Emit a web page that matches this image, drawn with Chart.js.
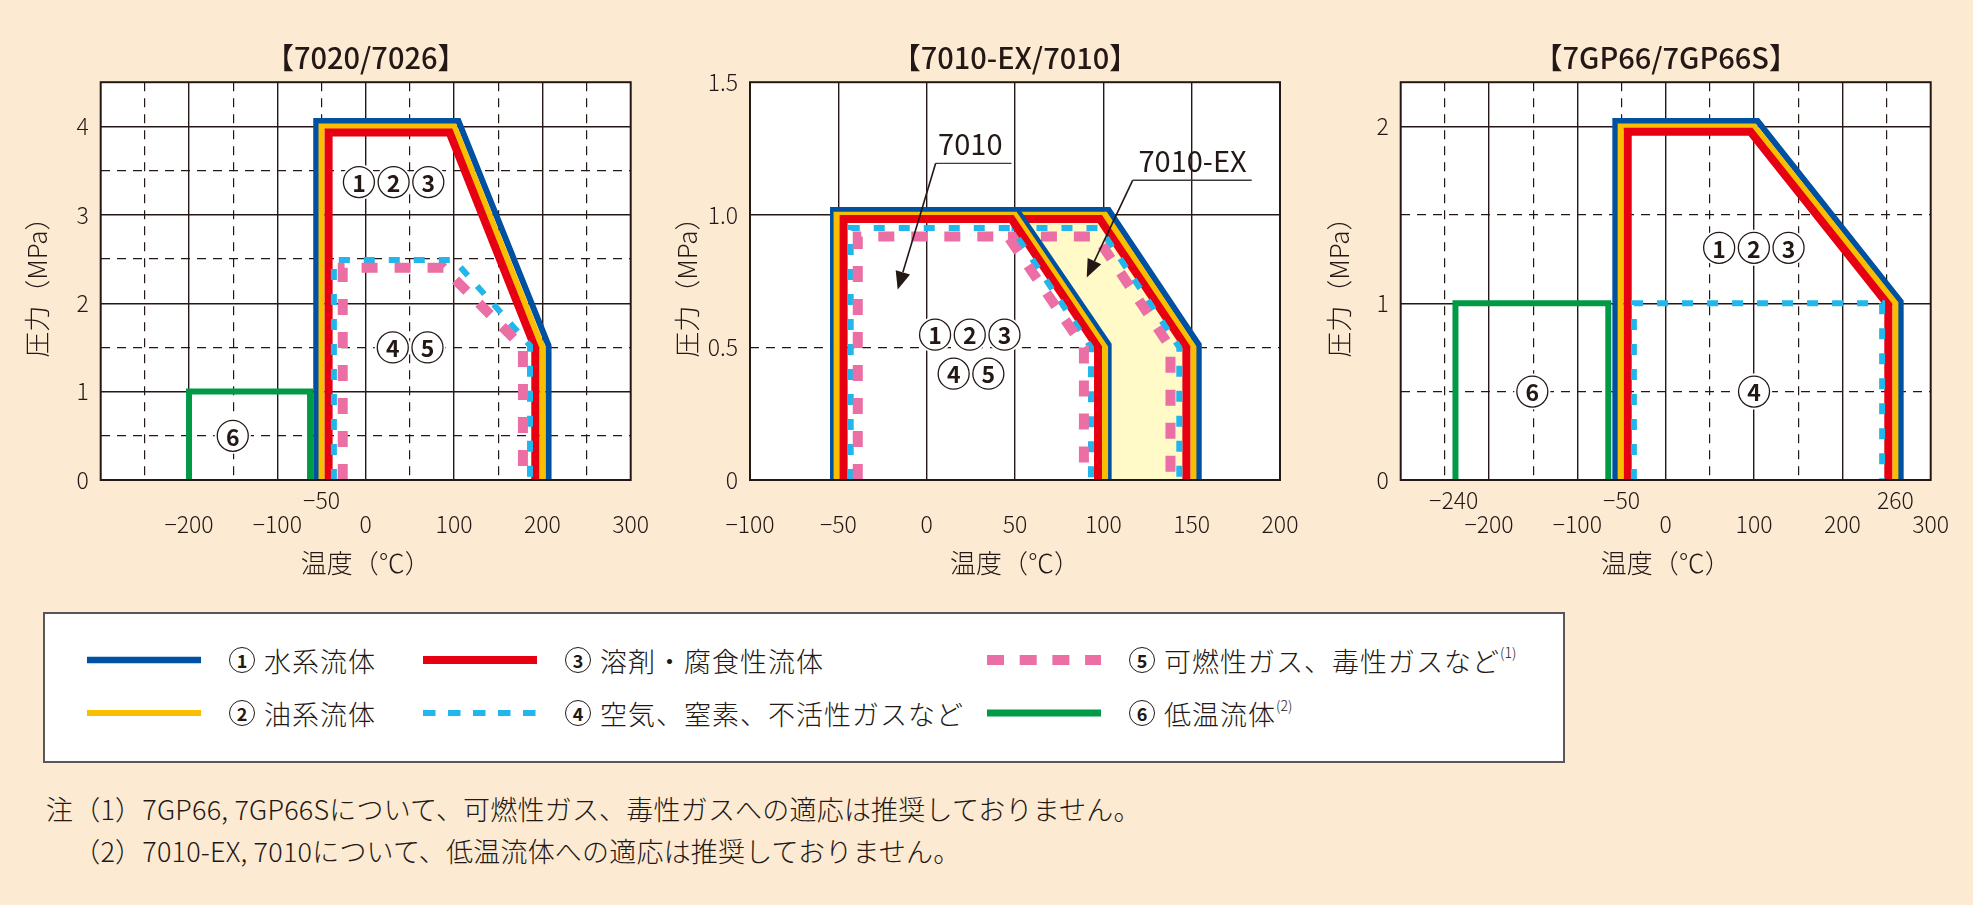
<!DOCTYPE html>
<html>
<head>
<meta charset="utf-8">
<script src="https://cdn.jsdelivr.net/npm/chart.js@4.4.1/dist/chart.umd.min.js"></script>
<style>
  html, body { margin: 0; padding: 0; }
  body { width: 1973px; height: 905px; background: #fcead2; position: relative; overflow: hidden;
         font-family: 'Noto Sans CJK JP', 'Noto Sans', sans-serif; color: #231815; }
  canvas { position: absolute; top: 0; }
  #legend { position: absolute; left: 43px; top: 612px; width: 1522px; height: 151px; box-sizing: border-box;
            background: #fff; border: 2px solid #595757; }
  .item { position: absolute; height: 40px; display: flex; align-items: center; white-space: nowrap; }
  .item svg { margin-right: 28px; }
  .num { display: inline-block; width: 24px; height: 24px; border: 1.4px solid #231815; border-radius: 50%;
         font-weight: 700; font-size: 18px; line-height: 24px; text-align: center; margin-right: 9px; }
  .txt { font-size: 27px; font-weight: 300; letter-spacing: 1px; }
  .txt sup { font-size: 14px; position: relative; top: -4px; letter-spacing: 0; }
  .note { position: absolute; left: 46px; font-size: 27px; font-weight: 300; letter-spacing: 0.2px; white-space: nowrap; }
</style>
</head>
<body>
<canvas id="c1" width="660" height="600" style="left:0px"></canvas>
<canvas id="c2" width="660" height="600" style="left:660px"></canvas>
<canvas id="c3" width="653" height="600" style="left:1320px"></canvas>
<div id="legend"></div>
<div class="note" style="top:789px">注（1）7GP66, 7GP66Sについて、可燃性ガス、毒性ガスへの適応は推奨しておりません。</div>
<div class="note" style="top:831px"><span style="visibility:hidden">注</span>（2）7010-EX, 7010について、低温流体への適応は推奨しておりません。</div>

<script>
const INK = '#231815'
const BLUE = '#0051a2'
const YELLOW = '#f9be00'
const RED = '#e60012'
const CYAN = '#21b7ec'
const PINK = '#eb6ea5'
const GREEN = '#009a47'
const FILL = '#fffac8'
const FONT = "'Noto Sans CJK JP', 'Noto Sans', sans-serif"

// 【7020/7026】 temperature (°C), pressure (MPa)
const blue1 = [[-56, 0], [-56, 4.06], [105, 4.06], [207, 1.52], [207, 0]]
const yellow1 = [[-50, 0], [-50, 4.0], [100, 4.0], [200, 1.5], [200, 0]]
const red1 = [[-42, 0], [-42, 3.93], [95, 3.93], [192, 1.49], [192, 0]]
const cyan1 = [[-36, 0], [-36, 2.49], [100, 2.49], [186, 1.52], [186, 0]]
const pink1 = [[-26, 0], [-26, 2.4], [88, 2.4], [178, 1.5], [178, 0]]
const green1 = [[-200, 0], [-200, 1.0], [-63, 1.0], [-63, 0]]
const marks1 = [['123', 31.6, 3.37], ['45', 50.3, 1.5], ['6', -150.5, 0.5]]

// 【7010-EX/7010】
const blue2 = [[-53, 0], [-53, 1.018], [51, 1.018], [103, 0.51], [103, 0]]
const yellow2 = [[-51, 0], [-51, 1.0], [50, 1.0], [101, 0.5], [101, 0]]
const red2 = [[-47, 0], [-47, 0.984], [48, 0.984], [97, 0.5], [97, 0]]
const cyan2 = [[-43, 0], [-43, 0.95], [48, 0.95], [93, 0.5], [93, 0]]
const pink2 = [[-39, 0], [-39, 0.918], [46, 0.918], [89, 0.5], [89, 0]]
const blueEx = [[51, 1.018], [103, 1.018], [154, 0.51], [154, 0]]
const yellowEx = [[50, 1.0], [101, 1.0], [151, 0.5], [151, 0]]
const redEx = [[48, 0.984], [98, 0.984], [147, 0.5], [147, 0]]
const cyanEx = [[48, 0.95], [98, 0.95], [143, 0.5], [143, 0]]
const pinkEx = [[46, 0.918], [96, 0.918], [138, 0.5], [138, 0]]
const exZone = [[50, 1.0], [101, 1.0], [151, 0.5], [151, 0], [101, 0], [101, 0.5], [50, 1.0]]
const marks2 = [['123', 24.4, 0.548], ['45', 25.1, 0.401]]
const arrows2 = [
  { text: '7010', at: [24.7, 1.267], under: [[48, 1.194], [5.1, 1.194]], tip: [-16.4, 0.718] },
  { text: '7010-EX', at: [150.5, 1.204], under: [[184, 1.13], [116.6, 1.13]], tip: [90.6, 0.764] }
]

// 【7GP66/7GP66S】
const blue3 = [[-57, 0], [-57, 2.03], [104, 2.03], [266, 1.01], [266, 0]]
const yellow3 = [[-51, 0], [-51, 2.0], [100, 2.0], [260, 1.0], [260, 0]]
const red3 = [[-43, 0], [-43, 1.97], [96, 1.97], [252, 0.99], [252, 0]]
const cyan3 = [[-36, 0], [-36, 1.0], [245, 1.0], [245, 0]]
const green3 = [[-238, 0], [-238, 1.0], [-65, 1.0], [-65, 0]]
const marks3 = [['123', 99.8, 1.313], ['4', 100, 0.5], ['6', -151, 0.5]]

// axes: labels, solid and dashed grid values
const xLabels1 = [-200, -100, 0, 100, 200, 300]
const xUpper1 = [-50]
const xSolid1 = [-200, -100, 0, 100, 200]
const xDash1 = [-250, -150, -50, 50, 150, 250]
const yLabels1 = ['0', '1', '2', '3', '4']
const yValues1 = [0, 1, 2, 3, 4]
const ySolid1 = [1, 2, 3, 4]
const yDash1 = [0.5, 1.5, 2.5, 3.5]

const xLabels2 = [-100, -50, 0, 50, 100, 150, 200]
const xSolid2 = [-50, 0, 50, 100, 150]
const yLabels2 = ['0', '0.5', '1.0', '1.5']
const yValues2 = [0, 0.5, 1.0, 1.5]
const ySolid2 = [1.0]
const yDash2 = [0.5]

const xLabels3 = [-200, -100, 0, 100, 200, 300]
const xUpper3 = [-240, -50, 260]
const xSolid3 = [-200, -100, 0, 100, 200]
const xDash3 = [-250, -150, -50, 50, 150, 250]
const yLabels3 = ['0', '1', '2']
const yValues3 = [0, 1, 2]
const ySolid3 = [1, 2]
const yDash3 = [0.5, 1.5]

function pts(a) {
  return a.map(p => ({ x: p[0], y: p[1] }))
}

function line(data, color, width, dash) {
  return {
    data: pts(data), showLine: true, fill: false, tension: 0,
    borderColor: color, borderWidth: width, borderDash: dash || [],
    borderJoinStyle: 'miter', borderCapStyle: 'butt', pointRadius: 0, pointHoverRadius: 0
  }
}
const pinkLine = d => line(d, PINK, 10, [16, 17])
const cyanLine = d => line(d, CYAN, 6, [11, 14])

const minus = v => v < 0 ? '\u2212' + Math.abs(v) : String(v)

function markPlugin(marks, arrows) {
  return {
    id: 'marks',
    beforeDraw(chart) {
      const { ctx, chartArea: a } = chart
      ctx.save()
      ctx.fillStyle = '#fff'
      ctx.fillRect(a.left, a.top, a.right - a.left, a.bottom - a.top)
      ctx.restore()
    },
    afterDatasetsDraw(chart) {
      const { ctx, chartArea: a, scales } = chart
      const px = v => scales.x.getPixelForValue(v)
      const py = v => scales.y.getPixelForValue(v)
      ctx.save()
      ctx.strokeStyle = INK
      ctx.lineWidth = 2
      ctx.strokeRect(a.left, a.top, a.right - a.left, a.bottom - a.top)

      marks.forEach(([digits, x, y]) => {
        const cx = px(x), cy = py(y), n = digits.length
        digits.split('').forEach((d, i) => {
          const dx = cx + (i - (n - 1) / 2) * 34.7
          ctx.beginPath()
          ctx.arc(dx, cy, 18, 0, Math.PI * 2)
          ctx.fillStyle = '#fff'
          ctx.fill()
        })
        digits.split('').forEach((d, i) => {
          const dx = cx + (i - (n - 1) / 2) * 34.7
          ctx.beginPath()
          ctx.arc(dx, cy, 15.5, 0, Math.PI * 2)
          ctx.lineWidth = 1.3
          ctx.strokeStyle = INK
          ctx.stroke()
          ctx.fillStyle = INK
          ctx.font = `700 23px ${FONT}`
          ctx.textAlign = 'center'
          ctx.textBaseline = 'middle'
          ctx.fillText(d, dx, cy + 1)
        })
      })

      ;(arrows || []).forEach(ar => {
        ctx.fillStyle = INK
        ctx.font = `400 29px ${FONT}`
        ctx.textAlign = 'center'
        ctx.textBaseline = 'middle'
        ctx.fillText(ar.text, px(ar.at[0]), py(ar.at[1]))
        const [e, k] = ar.under
        ctx.beginPath()
        ctx.moveTo(px(e[0]), py(e[1]))
        ctx.lineTo(px(k[0]), py(k[1]))
        ctx.lineWidth = 1.4
        ctx.strokeStyle = '#3e3a39'
        ctx.stroke()
        const kx = px(k[0]), ky = py(k[1]), tx = px(ar.tip[0]), ty = py(ar.tip[1])
        const ang = Math.atan2(ty - ky, tx - kx)
        const bx = tx - 18 * Math.cos(ang), by = ty - 18 * Math.sin(ang)
        ctx.beginPath()
        ctx.moveTo(kx, ky)
        ctx.lineTo(bx, by)
        ctx.lineWidth = 1.6
        ctx.strokeStyle = INK
        ctx.stroke()
        ctx.beginPath()
        ctx.moveTo(tx, ty)
        ctx.lineTo(bx + 7.5 * Math.sin(ang), by - 7.5 * Math.cos(ang))
        ctx.lineTo(bx - 7.5 * Math.sin(ang), by + 7.5 * Math.cos(ang))
        ctx.closePath()
        ctx.fillStyle = INK
        ctx.fill()
      })
      ctx.restore()
    }
  }
}

function makeChart(id, o) {
  const xUpper = o.xUpper || []
  const xDash = o.xDash || []
  const xAll = [...new Set([...o.xLabels, ...xUpper, ...o.xSolid, ...xDash])].sort((a, b) => a - b)
  const yAll = [...new Set([...o.yValues, ...o.ySolid, ...o.yDash])].sort((a, b) => a - b)
  const tickFont = { family: FONT, size: 23, weight: 300, lineHeight: 1.05 }
  const titleFont = { family: FONT, size: 26, weight: 300, lineHeight: 1.2 }
  const gridColor = (solid, dash) => c => c.tick && (solid.includes(c.tick.value) || dash.includes(c.tick.value)) ? INK : 'rgba(0,0,0,0)'
  const gridDash = dash => c => c.tick && dash.includes(c.tick.value) ? [9, 7] : []
  const gridWidth = dash => c => c.tick && dash.includes(c.tick.value) ? 1.2 : 1.4

  new Chart(document.getElementById(id), {
    type: 'scatter',
    data: { datasets: o.datasets },
    options: {
      responsive: false,
      animation: false,
      devicePixelRatio: 1,
      layout: { padding: { left: o.padLeft, right: o.padRight, top: 0, bottom: 0 } },
      plugins: {
        legend: { display: false },
        tooltip: { enabled: false },
        title: {
          display: true, text: o.title, color: INK, fullSize: false,
          font: { family: FONT, size: 29, weight: 500, lineHeight: 1.2 },
          padding: { top: 40.1, bottom: 7.3 }
        }
      },
      scales: {
        x: {
          type: 'linear', min: o.xMin, max: o.xMax,
          afterBuildTicks: s => { s.ticks = xAll.map(v => ({ value: v })) },
          afterFit: s => { s.height = 120 },
          grid: { drawTicks: false, color: gridColor(o.xSolid, xDash), lineWidth: gridWidth(xDash) },
          border: { display: false, dash: gridDash(xDash) },
          ticks: {
            autoSkip: false, maxRotation: 0, minRotation: 0, padding: 8.5, color: INK, font: tickFont,
            callback: v => xUpper.includes(v) ? [minus(v), ''] : o.xLabels.includes(v) ? ['', minus(v)] : ''
          },
          title: { display: true, text: '温度（℃）', color: INK, font: titleFont, padding: { top: 0, bottom: 21.4 } }
        },
        y: {
          type: 'linear', min: 0, max: o.yMax,
          afterBuildTicks: s => { s.ticks = yAll.map(v => ({ value: v })) },
          afterFit: s => { s.width = o.yWidth },
          grid: { drawTicks: false, color: gridColor(o.ySolid, o.yDash), lineWidth: gridWidth(o.yDash) },
          border: { display: false, dash: gridDash(o.yDash) },
          ticks: {
            padding: 12, color: INK, font: tickFont,
            callback: v => { const i = o.yValues.indexOf(v); return i >= 0 ? o.yLabels[i] : '' }
          },
          title: { display: true, text: '圧力（MPa）', color: INK, font: titleFont, padding: { top: o.yTitlePad, bottom: 0 } }
        }
      }
    },
    plugins: [markPlugin(o.marks, o.arrows)]
  })
}

makeChart('c1', {
  title: '【7020/7026】',
  datasets: [pinkLine(pink1), cyanLine(cyan1), line(red1, RED, 8), line(yellow1, YELLOW, 6), line(blue1, BLUE, 6), line(green1, GREEN, 6)],
  xMin: -300, xMax: 300, xLabels: xLabels1, xUpper: xUpper1, xSolid: xSolid1, xDash: xDash1,
  yMax: 4.5, yLabels: yLabels1, yValues: yValues1, ySolid: ySolid1, yDash: yDash1,
  padLeft: 10, yWidth: 90.7, padRight: 29.3, yTitlePad: 11.4,
  marks: marks1
})

makeChart('c2', {
  title: '【7010-EX/7010】',
  datasets: [
    pinkLine(pink2), cyanLine(cyan2), line(red2, RED, 8), line(yellow2, YELLOW, 6), line(blue2, BLUE, 6),
    pinkLine(pinkEx), cyanLine(cyanEx), line(redEx, RED, 8), line(yellowEx, YELLOW, 6), line(blueEx, BLUE, 6),
    { data: pts(exZone), showLine: true, fill: 'shape', backgroundColor: FILL, borderColor: 'rgba(0,0,0,0)', borderWidth: 0, pointRadius: 0 }
  ],
  xMin: -100, xMax: 200, xLabels: xLabels2, xSolid: xSolid2,
  yMax: 1.5, yLabels: yLabels2, yValues: yValues2, ySolid: ySolid2, yDash: yDash2,
  padLeft: 0, yWidth: 90, padRight: 40, yTitlePad: 11.8,
  marks: marks2, arrows: arrows2
})

makeChart('c3', {
  title: '【7GP66/7GP66S】',
  datasets: [cyanLine(cyan3), line(red3, RED, 8), line(yellow3, YELLOW, 6), line(blue3, BLUE, 6), line(green3, GREEN, 6)],
  xMin: -300, xMax: 300, xLabels: xLabels3, xUpper: xUpper3, xSolid: xSolid3, xDash: xDash3,
  yMax: 2.25, yLabels: yLabels3, yValues: yValues3, ySolid: ySolid3, yDash: yDash3,
  padLeft: 0, yWidth: 80.7, padRight: 42.3, yTitlePad: 3.1,
  marks: marks3
})

// legend entries: colour, width, dash, number, text, note
const legendItems = [
  [BLUE, 6.5, '', '1', '水系流体', ''],
  [YELLOW, 6, '', '2', '油系流体', ''],
  [RED, 8, '', '3', '溶剤・腐食性流体', ''],
  [CYAN, 6, '12.5 12.5', '4', '空気、窒素、不活性ガスなど', ''],
  [PINK, 10, '17 15.7', '5', '可燃性ガス、毒性ガスなど', '(1)'],
  [GREEN, 7, '', '6', '低温流体', '(2)']
]
const legendCols = [42, 378, 942]
const legendRows = [26, 79]
const legend = document.getElementById('legend')
legendItems.forEach((it, i) => {
  const [color, w, dash, num, text, note] = it
  const el = document.createElement('div')
  el.className = 'item'
  el.style.left = legendCols[Math.floor(i / 2)] + 'px'
  el.style.top = legendRows[i % 2] + 'px'
  el.innerHTML = `<svg width="114" height="12"><line x1="0" y1="6" x2="114" y2="6" stroke="${color}" stroke-width="${w}" ${dash ? `stroke-dasharray="${dash}"` : ''}/></svg>` +
    `<span class="num">${num}</span><span class="txt">${text}${note ? `<sup>${note}</sup>` : ''}</span>`
  legend.appendChild(el)
})
</script>
</body>
</html>
